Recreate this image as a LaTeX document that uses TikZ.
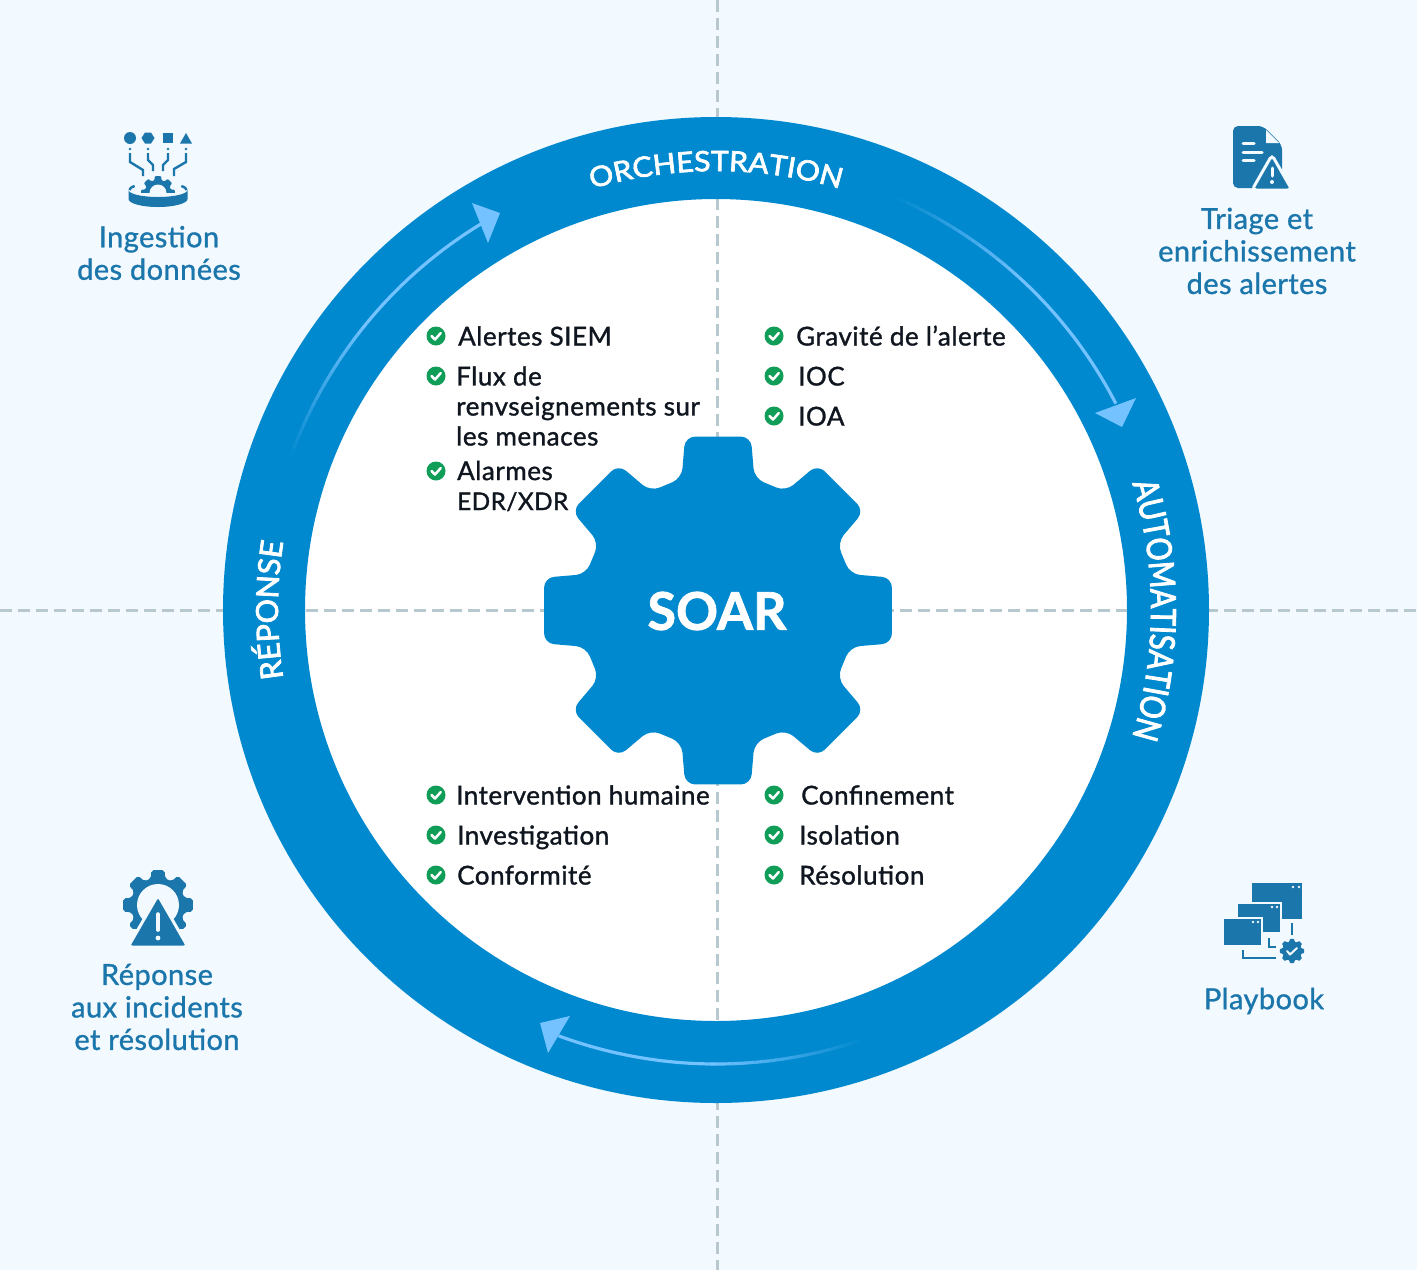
\documentclass[tikz,border=0pt]{standalone}
\usepackage{fontspec}
\setmainfont{Lato}[BoldFeatures={FakeBold=1.5}]
\newfontfamily\listfont{Lato}[FakeBold=1.2,LetterSpace=2]
\newfontfamily\sidefont{Lato}[FakeBold=1,LetterSpace=1.5]
\newfontfamily\topfont{Lato}[FakeBold=2.5,FakeStretch=1.08]
\newfontfamily\rightfont{Lato}[FakeBold=2.5,FakeStretch=0.83]
\newfontfamily\leftfont{Lato}[FakeBold=2.5]
\usetikzlibrary{decorations.text,positioning}

\definecolor{pagebg}{HTML}{F2F9FF}
\definecolor{ringblue}{HTML}{0089CE}
\definecolor{arrowblue}{HTML}{74C2FF}
\definecolor{iconblue}{HTML}{1B76AB}
\definecolor{dashgrey}{HTML}{B7C8CE}
\definecolor{okgreen}{HTML}{0F9D58}
\definecolor{inktext}{HTML}{10161F}

\tikzset{
  dashline/.style={draw=dashgrey,line width=3pt,dash pattern=on 12pt off 6pt},
  arrowline/.style={draw=arrowblue,line width=3.2pt},
  arrowhead/.style={fill=arrowblue},
  iconfill/.style={fill=iconblue},
  iconline/.style={draw=iconblue,line width=2.4pt},
  iconcut/.style={draw=pagebg,line width=2.4pt,line cap=round},
  itemtext/.style={inner sep=0pt,text=inktext,font=\listfont\fontsize{26}{30}\selectfont},
  oneline/.style={itemtext,text height=19pt,text depth=0pt},
  sidetext/.style={inner sep=0pt,text=iconblue,align=center,font=\sidefont\fontsize{29}{32.5}\selectfont},
  okmark/.style={circle,fill=okgreen,inner sep=0pt,minimum size=19pt,
    path picture={\draw[white,line width=2.5pt,line cap=round,line join=round]
      ([shift={(-4.5pt,0pt)}]path picture bounding box.center)
      -- ([shift={(-1pt,-3.5pt)}]path picture bounding box.center)
      -- ([shift={(4.8pt,3pt)}]path picture bounding box.center);}},
}

% centre, scale, corner size, colour
\newcommand{\gearfill}[4]{%
  \fill[#4,shift={#1},scale=#2,rounded corners=#3]
    (-15.4:137) -- (-10.7:177) -- (10.7:177) -- (15.4:137)
    \foreach \a in {45,90,...,315} {
      -- (\a-15.4:137) -- (\a-10.7:177) -- (\a+10.7:177) -- (\a+15.4:137)
    } -- cycle;
}
% start angle, end angle, radius
\newcommand{\fadearc}[3]{%
  \pgfmathsetmacro\fademid{#1+0.5*(#2-#1)}
  \foreach \i in {1,...,20} {
    \pgfmathsetmacro\fromang{#1+(\i-1)*(\fademid-#1)/20}
    \pgfmathsetmacro\toang{#1+\i*(\fademid-#1)/20}
    \pgfmathsetmacro\fadeop{\i/20}
    \draw[arrowline,opacity=\fadeop] (c) ++(\fromang:#3) arc[start angle=\fromang,end angle=\toang,radius=#3];
  }
  \draw[arrowline] (c) ++(\fademid:#3) arc[start angle=\fademid,end angle=#2,radius=#3];
}
% word, middle angle, radius, font
\newcommand{\ringword}[4]{%
  \path[decorate,decoration={text along path,text align=center,
    text={|#4\color{white}|#1}}]
    (c) ++(#2-45:#3) arc[start angle=#2-45,end angle=#2+45,radius=#3];
}

\begin{document}
\begin{tikzpicture}[x=1pt,y=-1pt,on grid]
    \useasboundingbox (0,0) rectangle (1417,1270);
    \fill[pagebg] (0,0) rectangle (1417,1270);
    \coordinate (c) at (716,610);
    \fill[white] (c) circle[radius=411];

    % cross lines
    \draw[dashline] (717,0) -- (717,1270);
    \draw[dashline] (0,610) -- (1417,610);

    % ring
    \draw[draw=ringblue,line width=82pt] (c) circle[radius=452];
    \ringword{ORCHESTRATION}{270}{439}{\topfont\fontsize{28}{28}\selectfont}
    \ringword{AUTOMATISATION}{0}{435}{\rightfont\fontsize{34.7}{34.7}\selectfont}
    \ringword{RÉPONSE}{180}{438}{\leftfont\fontsize{30.5}{30.5}\selectfont}

    % ring arrows
    \fadearc{200}{238.8}{452}
    \fill[arrowhead] (472,203) -- (500,213) -- (488,243) -- cycle;
    \fadearc{-66}{-27.3}{450}
    \fill[arrowhead] (1095,413) -- (1136,398) -- (1122,427) -- cycle;
    \fadearc{71.6}{110.3}{454}
    \fill[arrowhead] (570,1016) -- (540,1023) -- (548,1053) -- cycle;

    % gear
    \gearfill{(718,610.5)}{1}{10pt}{ringblue}
    \node[inner sep=0pt,text=white,font=\fontsize{52}{52}\selectfont\bfseries] (soar) at (717,611) {SOAR};

    % upper left list
    \node[okmark] (c1) at (436,336) {};
    \node[okmark] (c2) [below=40pt of c1] {};
    \node[okmark] (c3) [below=95pt of c2] {};
    \node[oneline] (t1) [right=22pt of c1,anchor=west] {Alertes SIEM};
    \node[itemtext,align=left,yshift=-30pt] (t2) [right=20pt of c2,anchor=west] {Flux de\\renvseignements sur\\les menaces};
    \node[itemtext,align=left,yshift=-15pt] (t3) [right=21pt of c3,anchor=west] {Alarmes\\{\fontsize{24.3}{30}\selectfont EDR/XDR}};

    % upper right list
    \node[okmark] (c4) at (774,336) {};
    \node[okmark] (c5) [below=40pt of c4] {};
    \node[okmark] (c6) [below=40pt of c5] {};
    \node[oneline] (t4) [right=22pt of c4,anchor=west] {Gravité de l’alerte};
    \node[oneline] (t5) [right=24pt of c5,anchor=west] {IOC};
    \node[oneline] (t6) [right=24pt of c6,anchor=west] {IOA};

    % lower left list
    \node[okmark] (c7) at (436,795) {};
    \node[okmark] (c8) [below=40pt of c7] {};
    \node[okmark] (c9) [below=40pt of c8] {};
    \node[oneline] (t7) [right=20pt of c7,anchor=west] {Intervention humaine};
    \node[oneline] (t8) [right=21pt of c8,anchor=west] {Investigation};
    \node[oneline] (t9) [right=21pt of c9,anchor=west] {Conformité};

    % lower right list
    \node[okmark] (c10) at (774,795) {};
    \node[okmark] (c11) [below=40pt of c10] {};
    \node[okmark] (c12) [below=40pt of c11] {};
    \node[oneline] (t10) [right=27pt of c10,anchor=west] {Confinement};
    \node[oneline] (t11) [right=25pt of c11,anchor=west] {Isolation};
    \node[oneline] (t12) [right=25pt of c12,anchor=west] {Résolution};

    % corner labels
    \node[sidetext] (ingest) at (159,253) {Ingestion\\des données};
    \node[sidetext] (triage) at (1257,251) {Triage et\\enrichissement\\des alertes};
    \node[sidetext] (incident) at (157,1007) {Réponse\\aux incidents\\et résolution};
    \node[sidetext] (playbook) at (1264,1001) {Playbook};

    % icon: data intake
    \fill[iconfill] (130,138) circle[radius=6];
    \fill[iconfill] (141.5,138) -- (145,132.5) -- (151,132.5) -- (154.5,138) -- (151,143.5) -- (145,143.5) -- cycle;
    \fill[iconfill] (163,133) rectangle (173,143);
    \fill[iconfill] (186,133) -- (192,143.5) -- (180,143.5) -- cycle;
    \foreach \x in {130,148,168,186} \fill[iconfill] (\x,149) circle[radius=1.4];
    \draw[iconline] (130,153) -- (130,162) -- (143,170) -- (143,176);
    \draw[iconline] (148,153) -- (148,160) -- (153,165) -- (153,171);
    \draw[iconline] (168,153) -- (168,160) -- (163,165) -- (163,171);
    \draw[iconline] (186,153) -- (186,162) -- (174,169) -- (174,176);
    \begin{scope}
      \clip (120,170) rectangle (196,192);
      \gearfill{(158,193)}{0.097}{1pt}{iconblue}
      \fill[pagebg] (158,193) circle[radius=8.5];
    \end{scope}
    \fill[iconfill] (128.5,190) -- (128.5,199) arc[start angle=180,end angle=0,x radius=29.5,y radius=8]
      -- (187.5,190) arc[start angle=0,end angle=180,x radius=29.5,y radius=7] -- cycle;
    \draw[iconline] (129.5,190) arc[start angle=180,end angle=215,x radius=28.5,y radius=7];
    \draw[iconline] (186.5,190) arc[start angle=0,end angle=-35,x radius=28.5,y radius=7];

    % icon: alert sheet
    \fill[iconfill,rounded corners=5pt] (1233,126) -- (1263,126) -- (1282,145) -- (1282,188) -- (1233,188) -- cycle;
    \fill[pagebg] (1266,130) -- (1266,143) -- (1279,143) -- cycle;
    \draw[iconcut,line width=3pt] (1243,143) -- (1254,143);
    \draw[iconcut,line width=3pt] (1243,152) -- (1262,152);
    \draw[iconcut,line width=3pt] (1243,160) -- (1254,160);
    \filldraw[fill=iconblue,draw=pagebg,line width=3pt,rounded corners=4pt] (1272,155) -- (1292,190) -- (1252,190) -- cycle;
    \draw[iconcut,line width=3pt] (1272,168) -- (1272,176);
    \fill[pagebg] (1272,182) circle[radius=2];

    % icon: incident gear
    \begin{scope}
      \clip (110,860) rectangle (205,928);
      \gearfill{(158,905)}{0.2}{2pt}{iconblue}
      \fill[pagebg] (158,905) circle[radius=21];
    \end{scope}
    \filldraw[fill=iconblue,draw=pagebg,line width=3pt,rounded corners=4pt] (158,895) -- (188,947) -- (128,947) -- cycle;
    \draw[iconcut,line width=3.6pt] (158,914) -- (158,930);
    \fill[pagebg] (158,938) circle[radius=2.4];

    % icon: playbook windows
    \fill[iconfill] (1252,883) rectangle (1302,919);
    \filldraw[fill=iconblue,draw=pagebg,line width=2pt] (1237,903) rectangle (1281,933);
    \filldraw[fill=iconblue,draw=pagebg,line width=2pt] (1223,918) rectangle (1262,946);
    \foreach \x/\y in {1293/887,1299/887,1272/907,1277/907,1253/922,1258/922}
      \fill[pagebg] (\x,\y) circle[radius=1.4];
    \draw[iconline] (1292,923) -- (1292,935);
    \draw[iconline] (1269,938) -- (1269,947) -- (1276,947);
    \draw[iconline] (1243,950) -- (1243,958) -- (1276,958);
    \gearfill{(1292,951)}{0.07}{1pt}{iconblue}
    \draw[draw=pagebg,line width=2pt,line cap=round,line join=round] (1287,951) -- (1290,954.5) -- (1297,948);
\end{tikzpicture}
\end{document}
